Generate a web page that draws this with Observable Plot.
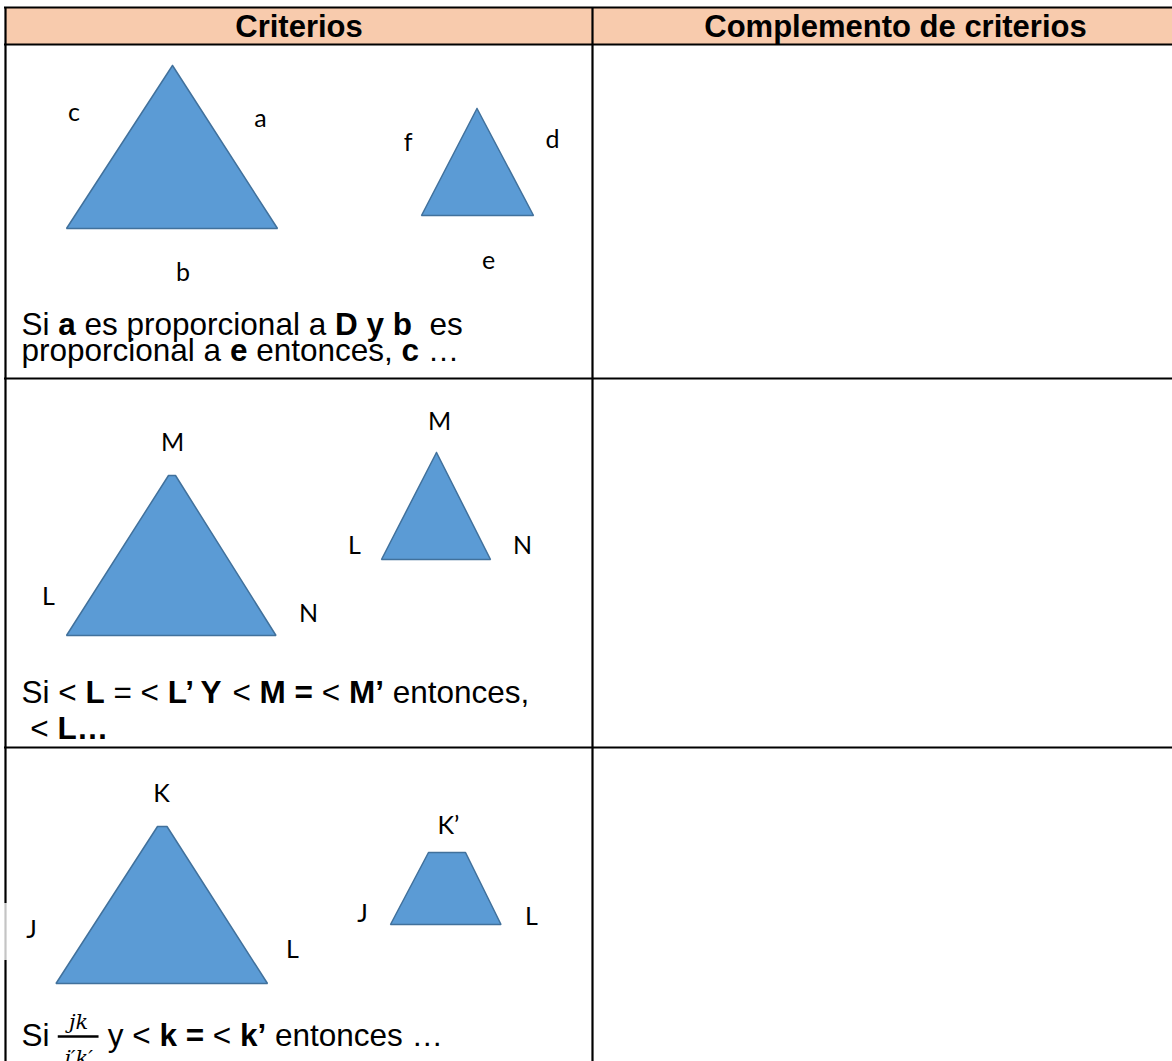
<!DOCTYPE html>
<html><head><meta charset="utf-8">
<script src="https://cdn.jsdelivr.net/npm/d3@7"></script>
<script src="https://cdn.jsdelivr.net/npm/@observablehq/plot@0.6"></script>
<style>html,body{margin:0;padding:0;background:#fff;overflow:hidden}</style>
</head><body><div id="chart"></div>
<script>
const W = 1172, H = 1061;

// Table grid (page units)
const tableLeft = 5, tableRight = 1198, tableTop = 7;
const rowLines = [7, 44, 378, 747];
const colLines = [5, 592];
const leftBorderFaint = [903, 960];
const headerLabels = ["Criterios", "Complemento de criterios"];
const headerBaseline = 36;

// Figures: vertices of each shape
const shapes = [
  {id: "r1big",   pts: [[172, 65], [277, 228], [66, 228]]},
  {id: "r1small", pts: [[476.5, 108], [533, 215], [421, 215]]},
  {id: "r2big",   pts: [[168, 475], [175, 475], [275.5, 635], [66, 635]]},
  {id: "r2small", pts: [[436, 452], [490, 559], [381, 559]]},
  {id: "r3big",   pts: [[157, 826], [166.5, 826], [267, 983], [55.5, 983]]},
  {id: "r3small", pts: [[428, 852], [465, 852], [500.5, 924], [390, 924]]}
];

// Vertex / side labels: text, centre x, baseline y
const vertexLabels = [
  ["c", 73.5, 120], ["a", 260, 126], ["f", 407.5, 150], ["d", 552, 147], ["b", 182.5, 280], ["e", 488, 268],
  ["M", 172, 450], ["M", 439, 429], ["L", 354, 553], ["N", 522, 553], ["L", 48, 604], ["N", 308, 621],
  ["K", 161, 801], ["K\u2019", 448, 833], ["J", 31, 937], ["L", 292, 957], ["J", 362, 921], ["L", 531, 924]
];

// Sentences: baseline and segments [text, style] (0 regular, 1 bold, 2 fraction)
const textLeft = 21;
const sentences = [
  {y: 334, segs: [["Si ", 0], ["a", 1], [" es proporcional a ", 0], ["D y b", 1], ["  es", 0]]},
  {y: 360, segs: [["proporcional a ", 0], ["e", 1], [" entonces, ", 0], ["c", 1], [" \u2026", 0]]},
  {y: 702, segs: [["Si < ", 0], ["L", 1], [" = < ", 0], ["L\u2019 Y", 1], [" < ", 0], ["M =", 1], [" < ", 0], ["M\u2019", 1], [" entonces,", 0]]},
  {y: 738, segs: [[" < ", 0], ["L\u2026", 1]]},
  {y: 1045, segs: [["Si ", 0], ["", 2], [" y < ", 0], ["k = ", 1], ["< ", 0], ["k\u2019", 1], [" entonces \u2026", 0]]}
];
const fracNum = "jk", fracDen = "j\u2032k\u2032";

// ---- layout helpers ----
const SANS = "'Liberation Sans', Arial, sans-serif";
const SERIF = "'DejaVu Serif', serif";
const LABEL = "Lato, 'Open Sans', sans-serif";
const bodySize = 31.5, headSize = 31, fracSize = 21, labelSize = 25;
const ctx = document.createElement("canvas").getContext("2d");
function measure(t, weight, size, fam, style = "normal") {
  ctx.font = `${style} ${weight} ${size}px ${fam}`;
  return ctx.measureText(t).width;
}

const segs = [], fracs = [];
for (const s of sentences) {
  let x = textLeft;
  for (const [t, st] of s.segs) {
    if (st === 2) {
      const w = Math.max(measure(fracNum, 400, fracSize, SERIF, "italic"), measure(fracDen, 400, fracSize, SERIF, "italic")) + 12;
      fracs.push({x1: x, x2: x + w, cx: x + w / 2, y: s.y});
      x += w;
    } else {
      segs.push({text: t, x, y: s.y, bold: st === 1});
      x += measure(t, st === 1 ? 700 : 400, bodySize, SANS);
    }
  }
}

const shapeRows = shapes.flatMap(s => [...s.pts, s.pts[0]].map(([x, y]) => ({id: s.id, x, y})));
const headerRows = headerLabels.map((label, i) => ({label, x: (i === 0 ? (colLines[0] + colLines[1]) / 2 : (colLines[1] + tableRight) / 2), y: headerBaseline}));
const labelRows = vertexLabels.map(([text, x, y]) => ({text, x, y}));

const leftBorder = [
  {y1: tableTop, y2: leftBorderFaint[0], c: "#000"},
  {y1: leftBorderFaint[0], y2: leftBorderFaint[1], c: "#c4c4c4"},
  {y1: leftBorderFaint[1], y2: H + 5, c: "#000"}
];

const chart = Plot.plot({
  width: W, height: H, margin: 0,
  x: {domain: [0, W], range: [0, W], axis: null},
  y: {domain: [0, H], range: [0, H], axis: null},
  style: {background: "white", overflow: "visible"},
  marks: [
    Plot.rect([{x1: tableLeft, x2: W + 5, y1: rowLines[0], y2: rowLines[1]}], {x1: "x1", x2: "x2", y1: "y1", y2: "y2", fill: "#F8CBAD"}),
    Plot.line(shapeRows, {x: "x", y: "y", z: "id", fill: "#5B9BD5", stroke: "#41719C", strokeWidth: 1.5, strokeLinejoin: "miter", curve: "linear"}),
    Plot.ruleY(rowLines, {y: d => d, x1: tableLeft - 1, x2: W + 5, stroke: "#000", strokeWidth: 2.2}),
    Plot.ruleX(colLines.slice(1), {x: d => d, y1: tableTop, y2: H + 5, stroke: "#000", strokeWidth: 2.2}),
    Plot.ruleX(leftBorder, {x: tableLeft, y1: "y1", y2: "y2", stroke: "c", strokeWidth: 2.2}),
    Plot.text(headerRows, {x: "x", y: "y", text: "label", textAnchor: "middle", lineAnchor: "bottom", fontSize: headSize, fontWeight: 700, fontFamily: SANS, fill: "#000"}),
    Plot.text(labelRows, {x: "x", y: "y", text: "text", textAnchor: "middle", lineAnchor: "bottom", fontSize: labelSize, fontFamily: LABEL, fill: "#000"}),
    Plot.text(segs.filter(d => !d.bold), {x: "x", y: "y", text: "text", textAnchor: "start", lineAnchor: "bottom", fontSize: bodySize, fontFamily: SANS, fill: "#000"}),
    Plot.text(segs.filter(d => d.bold), {x: "x", y: "y", text: "text", textAnchor: "start", lineAnchor: "bottom", fontSize: bodySize, fontWeight: 700, fontFamily: SANS, fill: "#000"}),
    Plot.ruleY(fracs, {y: d => d.y - 9, x1: "x1", x2: "x2", stroke: "#000", strokeWidth: 2.5}),
    Plot.text(fracs, {x: "cx", y: d => d.y - 17, text: () => fracNum, textAnchor: "middle", lineAnchor: "bottom", fontSize: fracSize, fontStyle: "italic", fontFamily: SERIF, fill: "#000"}),
    Plot.text(fracs, {x: "cx", y: d => d.y + 19, text: () => fracDen, textAnchor: "middle", lineAnchor: "bottom", fontSize: fracSize, fontStyle: "italic", fontFamily: SERIF, fill: "#000"})
  ]
});
document.getElementById("chart").append(chart);
</script>
</body></html>
